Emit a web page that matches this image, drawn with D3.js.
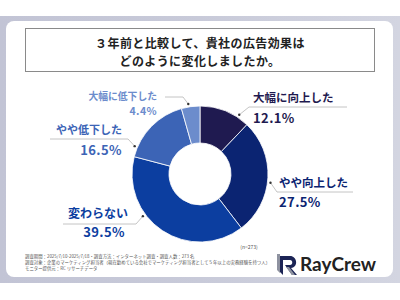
<!DOCTYPE html>
<html>
<head>
<meta charset="utf-8">
<script src="https://cdn.jsdelivr.net/npm/d3@7"></script>
<style>
  body { margin: 0; background: #fff; }
  svg { display: block; font-family: "Noto Sans CJK JP", "Noto Sans", sans-serif; }
</style>
</head>
<body>
<svg class="chart" width="400" height="300"></svg>
<script>
const categories = ['大幅に向上した', 'やや向上した', '変わらない', 'やや低下した', '大幅に低下した']
const values = [12.1, 27.5, 39.5, 16.5, 4.4]
const colors = ['#1f1a50', '#0b2472', '#0c3ea0', '#3c64b6', '#6c8ccc']
const titleLines = ['３年前と比較して、貴社の広告効果は', 'どのように変化しましたか。']
const notes = [
  '調査期間：2025/7/10-2025/7/18・調査方法：インターネット調査・調査人数：273 名',
  '調査対象：企業のマーケティング担当者（現在勤めている会社でマーケティング担当者として５年以上の実務経験を持つ人）',
  'モニター提供元：RC リサーチデータ'
]
const sampleSize = 273

let svg = d3.select("svg.chart")
let width = +svg.attr("width")

// frame + card
let defs = svg.append("defs")
let grad = defs.append("linearGradient").attr("id", "frame")
grad.append("stop").attr("offset", "0%").attr("stop-color", "#c2c4d5")
grad.append("stop").attr("offset", "50%").attr("stop-color", "#c8cad9")
grad.append("stop").attr("offset", "100%").attr("stop-color", "#d3d5e1")

svg.append("rect").attr("x", 0).attr("y", 16).attr("width", width).attr("height", 267)
    .attr("fill", "url(#frame)")
svg.append("rect").attr("x", 6).attr("y", 21).attr("width", 387).attr("height", 256)
    .attr("rx", 8).attr("fill", "#fff")

// title box
svg.append("rect").attr("x", 25.5).attr("y", 28.5).attr("width", 349).attr("height", 43)
    .attr("fill", "none").attr("stroke", "#8a8a8a").attr("stroke-width", 1)

svg.append("g").selectAll("text")
  .data(titleLines)
  .enter().append("text")
    .attr("x", width / 2)
    .attr("y", (d, i) => 47.5 + i * 18)
    .attr("text-anchor", "middle")
    .attr("font-size", 12)
    .attr("font-weight", 700)
    .attr("letter-spacing", 0.4)
    .attr("fill", "#222")
    .text(d => d)

// donut
const cx = 200, cy = 174
const data = categories.map((c, i) => ({name: c, value: values[i], color: colors[i]}))

let pie = d3.pie().value(d => d.value).sort(null)
let arc = d3.arc().innerRadius(31).outerRadius(68)
let arcs = pie(data)

let g = svg.append("g").attr("transform", `translate(${cx}, ${cy})`)
g.selectAll("path")
  .data(arcs)
  .enter().append("path")
    .attr("d", arc)
    .attr("fill", d => d.data.color)
    .attr("stroke", "#fff")
    .attr("stroke-width", 0.8)

// label layout (annotation placement only)
const layout = [
  {frac: 0.77, elbow: [249, 107], lineEnd: 347, anchor: 'start', tx: 253, ny: 98, py: 118, size: 11.5, psize: 13},
  {frac: 0.54, elbow: [277, 192], lineEnd: 353, anchor: 'start', tx: 279, ny: 183, py: 202, size: 11.5, psize: 13},
  {frac: 0.64, elbow: [136, 224], lineEnd: 63, anchor: 'end', tx: 128, ny: 214, py: 232, size: 12, psize: 13, ptx: 125},
  {frac: 0.14, elbow: [128, 139], lineEnd: 50, anchor: 'end', tx: 122, ny: 130, py: 150, size: 11, psize: 13},
  {frac: 0.40, elbow: [183, 97], lineEnd: 165, anchor: 'end', tx: 157, ny: 97, py: 111.5, size: 9.8, psize: 10.5}
]

let labels = svg.append("g").selectAll("g")
  .data(arcs)
  .enter().append("g")

labels.each(function(d, i) {
  let l = layout[i]
  let a = d.startAngle + l.frac * (d.endAngle - d.startAngle)
  let r = 71
  let px = cx + r * Math.sin(a), py = cy - r * Math.cos(a)
  let sel = d3.select(this)
  sel.append("polyline")
      .attr("points", [[px, py], l.elbow, [l.lineEnd, l.elbow[1]]].map(p => p.join(",")).join(" "))
      .attr("fill", "none")
      .attr("stroke", "#b5b5b5")
      .attr("stroke-width", 0.8)
  sel.append("circle").attr("cx", px).attr("cy", py).attr("r", 1.2).attr("fill", "#333")
  sel.append("text")
      .attr("x", l.tx).attr("y", l.ny)
      .attr("dy", "0.35em")
      .attr("text-anchor", l.anchor)
      .attr("font-size", l.size)
      .attr("font-weight", 700)
      .attr("fill", d.data.color)
      .text(d.data.name)
  sel.append("text")
      .attr("x", l.ptx || l.tx).attr("y", l.py)
      .attr("dy", "0.35em")
      .attr("text-anchor", l.anchor)
      .attr("font-size", l.psize)
      .attr("font-weight", 700)
      .attr("letter-spacing", 0.4)
      .attr("fill", d.data.color)
      .text(d3.format(".1f")(d.data.value) + "%")
})

// footer
svg.append("text")
    .attr("x", 249).attr("y", 247).attr("dy", "0.35em")
    .attr("text-anchor", "middle")
    .attr("font-size", 5)
    .attr("fill", "#555")
    .text(`(n=${sampleSize})`)

svg.append("g").selectAll("text")
  .data(notes)
  .enter().append("text")
    .attr("x", 25)
    .attr("y", (d, i) => 256.5 + i * 6.2)
    .attr("dy", "0.35em")
    .attr("font-size", 4.4)
    .attr("fill", "#555")
    .text(d => d)

// logo
let logo = svg.append("g").attr("transform", "translate(277, 253)")
logo.append("path")
    .attr("d", "M2,3 L13,3 C20,3 22,14 14,15 L20,22 L15,22 L8,12 L13,12 C16,12 16,7 13,7 L6,7 L6,22 L2,18 Z")
    .attr("fill", "#1c2455")
logo.append("path")
    .attr("d", "M0,1 L3,1 L3,20 L0,17 Z M9,14 L12,14 L18,22 L15,22 Z")
    .attr("fill", "#8e92a0")
svg.append("text")
    .attr("x", 300).attr("y", 264).attr("dy", "0.35em")
    .attr("font-family", "Lato, sans-serif")
    .attr("font-size", 19)
    .attr("font-weight", 700)
    .attr("fill", "#222")
    .text("RayCrew")
</script>
</body>
</html>
